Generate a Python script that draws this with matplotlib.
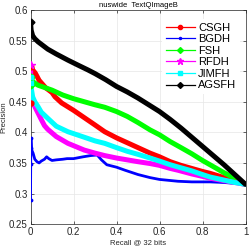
import matplotlib
matplotlib.use("Agg")
import matplotlib.pyplot as plt

plt.rcParams['font.family'] = ['Liberation Sans', 'DejaVu Sans']

series_names = ["CSGH", "BGDH", "FSH", "RFDH", "JIMFH", "AGSFH"]
series_colors = ["#ff0000", "#0000ff", "#00ff00", "#ff00ff", "#00ffff", "#000000"]
series_markers = ["o", ".", "D", "*", "s", "D"]

csgh_recall = [0.0, 0.002, 0.01, 0.022, 0.04, 0.07, 0.1, 0.114, 0.145, 0.2, 0.25, 0.3, 0.345, 0.4, 0.45, 0.5, 0.556, 0.6, 0.65, 0.7, 0.75, 0.8, 0.835, 0.9, 0.95, 1.0]
csgh_prec = [0.448, 0.507, 0.502, 0.497, 0.485, 0.473, 0.465, 0.458, 0.448, 0.436, 0.424, 0.412, 0.401, 0.391, 0.383, 0.375, 0.366, 0.360, 0.352, 0.346, 0.341, 0.336, 0.333, 0.326, 0.320, 0.315]

bgdh_recall = [0.0, 0.001, 0.002, 0.004, 0.007, 0.012, 0.02, 0.03, 0.04, 0.05, 0.065, 0.075, 0.085, 0.1, 0.12, 0.15, 0.17, 0.2, 0.245, 0.28, 0.31, 0.33, 0.355, 0.4, 0.44, 0.5, 0.556, 0.6, 0.686, 0.75, 0.835, 0.9, 1.0]
bgdh_prec = [0.289, 0.348, 0.390, 0.375, 0.370, 0.366, 0.356, 0.352, 0.350, 0.353, 0.356, 0.360, 0.357, 0.354, 0.355, 0.356, 0.357, 0.357, 0.360, 0.362, 0.363, 0.355, 0.347, 0.343, 0.338, 0.331, 0.326, 0.323, 0.320, 0.319, 0.319, 0.318, 0.315]

fsh_recall = [0.0, 0.003, 0.01, 0.035, 0.1, 0.15, 0.2, 0.25, 0.3, 0.345, 0.4, 0.45, 0.5, 0.556, 0.6, 0.649, 0.7, 0.75, 0.8, 0.835, 0.9, 0.95, 1.0]
fsh_prec = [0.477, 0.490, 0.483, 0.477, 0.469, 0.461, 0.455, 0.450, 0.445, 0.441, 0.434, 0.426, 0.416, 0.404, 0.396, 0.385, 0.375, 0.365, 0.354, 0.347, 0.334, 0.325, 0.315]

rfdh_recall = [0.0, 0.003, 0.01, 0.02, 0.05, 0.065, 0.08, 0.12, 0.174, 0.25, 0.3, 0.345, 0.4, 0.45, 0.5, 0.556, 0.6, 0.65, 0.686, 0.75, 0.8, 0.835, 0.9, 0.95, 1.0]
rfdh_prec = [0.510, 0.464, 0.452, 0.442, 0.421, 0.411, 0.405, 0.393, 0.382, 0.371, 0.366, 0.362, 0.358, 0.355, 0.352, 0.349, 0.346, 0.341, 0.338, 0.332, 0.328, 0.325, 0.321, 0.318, 0.315]

jimfh_recall = [0.0, 0.001, 0.005, 0.01, 0.02, 0.035, 0.05, 0.08, 0.12, 0.174, 0.25, 0.3, 0.345, 0.4, 0.45, 0.5, 0.556, 0.6, 0.65, 0.7, 0.75, 0.8, 0.835, 0.9, 0.95, 1.0]
jimfh_prec = [0.480, 0.490, 0.469, 0.458, 0.450, 0.442, 0.433, 0.423, 0.410, 0.401, 0.392, 0.386, 0.382, 0.375, 0.369, 0.364, 0.358, 0.353, 0.347, 0.342, 0.337, 0.331, 0.327, 0.322, 0.318, 0.315]

agsfh_recall = [0.0, 0.003, 0.01, 0.02, 0.035, 0.05, 0.08, 0.12, 0.174, 0.22, 0.267, 0.3, 0.35, 0.4, 0.45, 0.5, 0.55, 0.6, 0.65, 0.7, 0.75, 0.8, 0.85, 0.9, 0.95, 1.0]
agsfh_prec = [0.580, 0.567, 0.558, 0.553, 0.548, 0.544, 0.536, 0.528, 0.518, 0.510, 0.502, 0.496, 0.486, 0.475, 0.466, 0.456, 0.445, 0.434, 0.421, 0.407, 0.392, 0.377, 0.362, 0.347, 0.331, 0.315]

all_recall = [csgh_recall, bgdh_recall, fsh_recall, rfdh_recall, jimfh_recall, agsfh_recall]
all_prec = [csgh_prec, bgdh_prec, fsh_prec, rfdh_prec, jimfh_prec, agsfh_prec]

x_ticks = [0, 0.2, 0.4, 0.6, 0.8, 1]
x_tick_labels = ["0", "0.2", "0.4", "0.6", "0.8", "1"]
y_ticks = [0.25, 0.3, 0.35, 0.4, 0.45, 0.5, 0.55, 0.6]
y_tick_labels = ["0.25", "0.3", "0.35", "0.4", "0.45", "0.5", "0.55", "0.6"]

fig = plt.figure(figsize=(2.5, 2.49), dpi=100)
ax = fig.add_axes([0.122, 0.100, 0.860, 0.860])

widths = [3.6, 2.0, 3.6, 3.6, 3.6, 3.6]
n_marked = [2, 4, 2, 1, 2, 1]
for name, col, mk, r, p, lw, nm in zip(series_names, series_colors, series_markers, all_recall, all_prec, widths, n_marked):
    ax.plot(r, p, color=col, lw=lw, solid_capstyle='round', solid_joinstyle='round', zorder=3)
    ax.plot(r[:nm], p[:nm], linestyle='none', marker=mk, color=col,
            markersize=3.5 if mk != "*" else 5.5, zorder=4)
    ax.plot([], [], color=col, lw=0.9, marker=mk, markersize=3 if mk != "*" else 4.5, label=name)

ax.set_xlim(0, 1)
ax.set_ylim(0.25, 0.6)
ax.set_xticks(x_ticks)
ax.set_xticklabels(x_tick_labels)
ax.set_yticks(y_ticks)
ax.set_yticklabels(y_tick_labels)
ax.tick_params(direction='in', length=2.5, width=0.5, labelsize=7, colors='#262626',
               top=True, right=True, pad=2)
ax.grid(True, color='#e6e6e6', lw=0.5)
ax.set_axisbelow(True)
for s in ax.spines.values():
    s.set_linewidth(0.5)
    s.set_color('#262626')

ax.set_title("nuswide  TextQImageB", fontsize=5.5, pad=2, color='#000000')
ax.set_xlabel("Recall @ 32 bits", fontsize=5.5, labelpad=2, color='#262626')
ax.set_ylabel("Precision", fontsize=5.5, labelpad=1, color='#262626')

leg = ax.legend(loc='upper right', bbox_to_anchor=(1.0, 0.985), fontsize=8.0, frameon=True,
                edgecolor='white', facecolor='white', framealpha=1, handlelength=2.6,
                handletextpad=0.3, labelspacing=0.14, borderpad=0.35)
leg.get_frame().set_linewidth(0)

fig.savefig("out.png", dpi=100)
